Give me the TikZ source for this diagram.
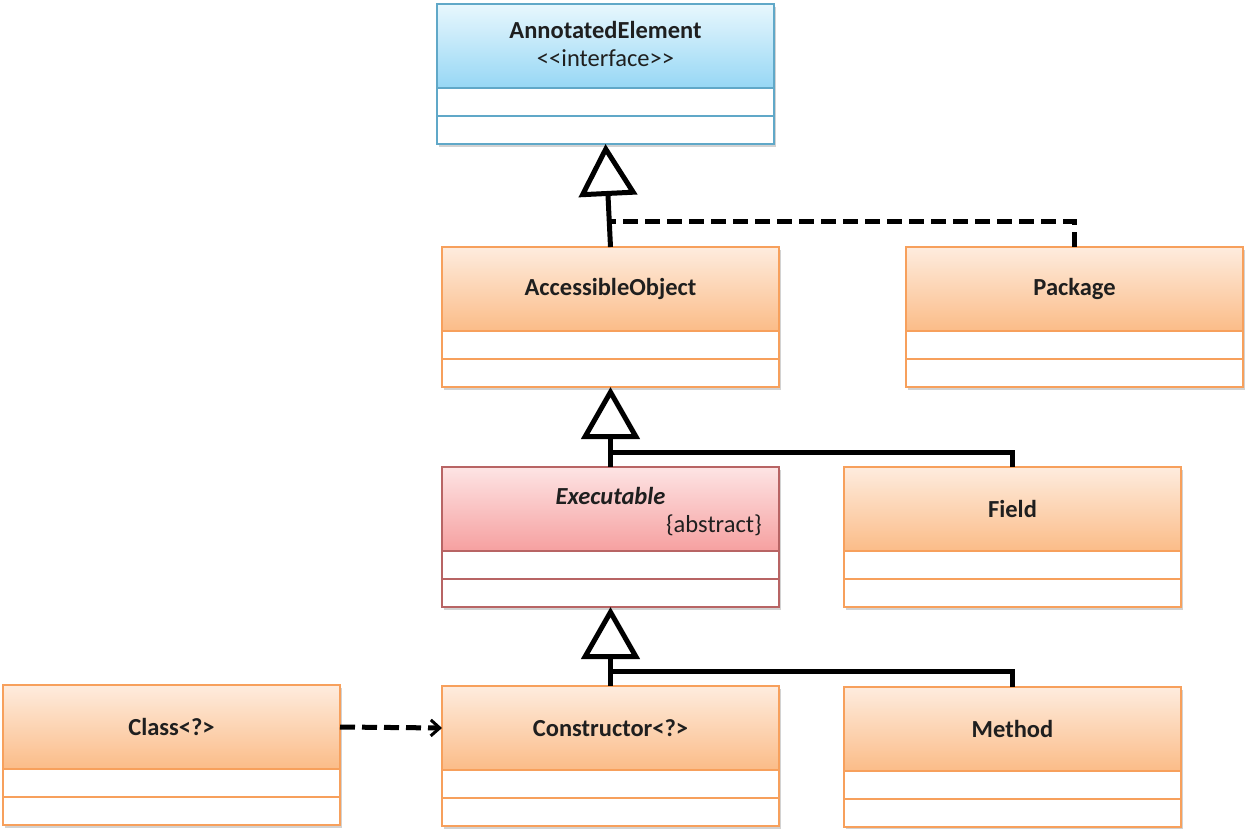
\documentclass[tikz,border=0pt]{standalone}
\usepackage{fontspec}
\setmainfont{Carlito}
\usetikzlibrary{arrows.meta,shadows,calc}

% palette for the three kinds of class boxes
\definecolor{orgborder}{RGB}{247,160,92}
\definecolor{orgtop}{RGB}{254,236,222}
\definecolor{orgbot}{RGB}{251,188,136}
\definecolor{bluborder}{RGB}{96,168,200}
\definecolor{blutop}{RGB}{232,247,253}
\definecolor{blubot}{RGB}{150,215,245}
\definecolor{pnkborder}{RGB}{184,100,100}
\definecolor{pnktop}{RGB}{253,228,228}
\definecolor{pnkbot}{RGB}{246,160,160}

\tikzset{
  classframe/.style={draw=#1border, line width=2pt, fill=white, minimum width=337pt,
    minimum height=140pt, inner sep=0pt, outer sep=0pt, anchor=north west,
    drop shadow={shadow xshift=2pt, shadow yshift=-3pt, opacity=0.35}},
  classhead/.style={draw=#1border, line width=2pt, top color=#1top, bottom color=#1bot,
    minimum width=337pt, minimum height=84pt, inner sep=0pt, outer sep=0pt, anchor=north west},
  classcomp/.style={draw=#1border, line width=2pt, fill=white, minimum width=337pt,
    minimum height=28pt, inner sep=0pt, outer sep=0pt, anchor=north},
  classname/.style={font=\fontsize{24.5}{29}\selectfont\bfseries, text=black!88, align=center, inner sep=0pt},
  plainlabel/.style={font=\fontsize{24.5}{29}\selectfont, text=black!88, inner sep=0pt},
  inherit/.style={line width=5pt, -{Triangle[fill=white,length=52pt,width=58pt]}},
  joinline/.style={line width=5pt},
  dashjoin/.style={line width=5pt, dash pattern=on 15pt off 7pt},
  depend/.style={line width=5pt, dash pattern=on 15pt off 7pt,
    -{Straight Barb[length=9pt,width=16pt,line width=3pt]}},
}

% one UML class: frame, name compartment and two empty compartments
\newcommand\umlclass[5]{%
  \node[classframe=#4] (#1) at (#2,#3) {};
  \node[classhead=#4] (#1-h) at (#2,#3) {};
  \node[classcomp=#4] (#1-a) at (#1-h.south) {};
  \node[classcomp=#4] (#1-b) at (#1-a.south) {};
  \node[classname] (#1-t) at (#1-h.center) {#5};
}

\begin{document}
\begin{tikzpicture}[x=1pt,y=-1pt]
\useasboundingbox[fill=white] (0,0) rectangle (1256,829);

\umlclass{ann}{437}{4}{blu}{}
\node[classname] (ann-n) at ($(ann-h.center)+(0,-16)$) {AnnotatedElement};
\node[plainlabel] (ann-s) at ($(ann-h.center)+(0,12)$) {<{}<interface>{}>};

\umlclass{acc}{442}{247}{org}{AccessibleObject}
\umlclass{pkg}{906}{247}{org}{Package}

\umlclass{exe}{442}{467}{pnk}{}
\node[classname] (exe-n) at ($(exe-h.center)+(0,-13)$) {\itshape Executable};
\node[plainlabel, anchor=east] (exe-s) at ($(exe-h.east)+(-17,16)$) {\{abstract\}};

\umlclass{fld}{844}{467}{org}{Field}

\umlclass{cls}{3}{685}{org}{Class<?>}
\umlclass{con}{442}{686}{org}{Constructor<?>}
\umlclass{mth}{844}{687}{org}{Method}

% junction points on the generalization stems
\coordinate (j1) at ($(acc.north)+(0,-25)$);
\coordinate (j2) at ($(exe.north)+(0,-15)$);
\coordinate (j3) at ($(con.north)+(0,-15)$);

% generalization / realization arrows
\draw[inherit] (acc.north) -- (ann.south);
\draw[dashjoin] (pkg.north) |- (j1);
\draw[inherit] (exe.north) -- (acc.south);
\draw[joinline] (fld.north) |- (j2);
\draw[inherit] (con.north) -- (exe.south);
\draw[joinline] (mth.north) |- (j3);

% dependency
\draw[depend] (cls-h.east) -- (con-h.west);
\end{tikzpicture}
\end{document}
